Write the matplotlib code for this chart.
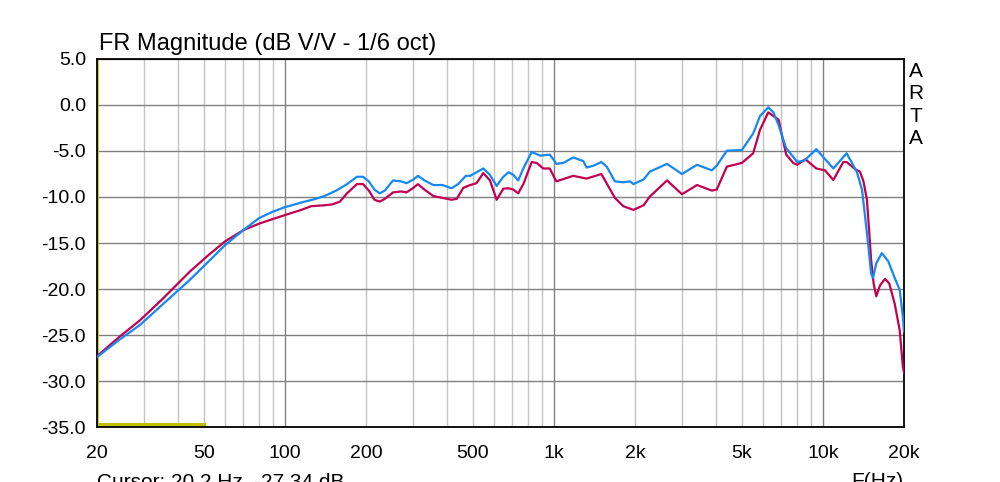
import numpy as np
import matplotlib
matplotlib.use("Agg")
import matplotlib.pyplot as plt

plt.rcParams['font.family'] = ['Liberation Sans', 'DejaVu Sans']
plt.rcParams['axes.unicode_minus'] = False

# blue trace (upper)
blue_f = [20, 24, 28.9, 35, 44.3, 52, 60, 70, 80, 90, 100, 115, 130, 140, 155, 170,
          185, 195, 205, 215, 225, 235, 252, 270, 283, 300, 312, 330, 356, 385, 416,
          440, 470, 488, 546, 578, 612, 648, 678, 706, 736, 769, 826, 887, 964, 994,
          1020, 1083, 1178, 1285, 1322, 1400, 1500, 1570, 1684, 1810, 1917, 1972,
          2152, 2270, 2630, 2990, 3400, 3860, 4025, 4390, 4990, 5500, 5830, 6260,
          6540, 6840, 7120, 7300, 8020, 8560, 9440, 10920, 12240, 13350, 13960,
          14330, 14700, 15090, 15330, 15780, 16540, 17490, 18470, 19280, 19800, 20000]
blue_db = [-27.4, -25.6, -23.9, -21.7, -19.0, -17.0, -15.2, -13.6, -12.3, -11.6, -11.1,
           -10.6, -10.2, -9.9, -9.3, -8.6, -7.8, -7.8, -8.3, -9.2, -9.6, -9.3, -8.2,
           -8.3, -8.5, -8.1, -7.7, -8.2, -8.7, -8.7, -9.05, -8.6, -7.7, -7.7, -6.9,
           -7.6, -8.8, -7.8, -7.3, -7.6, -8.2, -6.9, -5.1, -5.5, -5.4, -5.9, -6.4,
           -6.3, -5.7, -6.1, -6.8, -6.6, -6.2, -6.7, -8.3, -8.4, -8.3, -8.6, -8.1,
           -7.25, -6.4, -7.5, -6.5, -7.1, -6.6, -4.97, -4.9, -3.1, -1.2, -0.25, -0.8,
           -2.2, -3.8, -4.7, -6.2, -6.0, -4.8, -6.9, -5.25, -7.25, -9.2, -12.1, -15.0,
           -18.3, -18.8, -17.2, -16.1, -17.0, -18.8, -20.1, -23.0, -24.6]

# red trace (lower)
red_f = [20, 24, 28.9, 35, 44.3, 52, 60, 70, 80, 90, 100, 115, 125, 140, 150, 160,
         170, 185, 195, 205, 215, 225, 235, 252, 270, 283, 300, 312, 330, 356, 385,
         416, 435, 460, 488, 515, 546, 578, 612, 648, 678, 706, 736, 769, 826, 862,
         912, 964, 1020, 1178, 1322, 1500, 1684, 1810, 1972, 2152, 2270, 2630, 2990,
         3400, 3860, 4025, 4390, 4990, 5500, 5830, 6260, 6540, 6840, 7120, 7300,
         7750, 8020, 8600, 9440, 10170, 10920, 11900, 12240, 13200, 13720, 14140,
         14560, 14860, 15090, 15420, 15780, 16290, 17000, 17630, 18470, 19280,
         19800, 20000]
red_db = [-27.3, -25.3, -23.4, -21.1, -18.1, -16.3, -14.8, -13.6, -12.9, -12.4,
          -11.96, -11.4, -11.0, -10.9, -10.8, -10.5, -9.6, -8.6, -8.6, -9.3, -10.3,
          -10.5, -10.2, -9.5, -9.4, -9.5, -9.0, -8.6, -9.2, -9.9, -10.1, -10.3,
          -10.2, -9.0, -8.7, -8.5, -7.4, -8.2, -10.3, -9.1, -9.05, -9.2, -9.6, -8.6,
          -6.2, -6.3, -6.9, -6.9, -8.3, -7.7, -8.0, -7.5, -10.1, -11.0, -11.4,
          -10.9, -9.96, -8.2, -9.7, -8.7, -9.3, -9.2, -6.7, -6.3, -5.25, -2.7, -0.8,
          -1.2, -1.6, -4.0, -5.4, -6.3, -6.5, -5.9, -6.9, -7.1, -8.15, -6.2, -6.2,
          -7.0, -7.25, -8.3, -10.3, -13.9, -16.8, -19.4, -20.8, -19.6, -18.9, -19.4,
          -21.6, -24.5, -28.4, -29.1]

# yellow marker at the bottom
band_f = [20, 50]
band_db = [-34.7, -34.7]
cursor_f = 20.2

xtick_vals = [20, 50, 100, 200, 500, 1000, 2000, 5000, 10000, 20000]
xtick_labels = ['20', '50', '100', '200', '500', '1k', '2k', '5k', '10k', '20k']
ytick_vals = [5, 0, -5, -10, -15, -20, -25, -30, -35]

fig = plt.figure(figsize=(10, 4.82), dpi=100)
ax = fig.add_axes([0.097, 0.1141, 0.807, 0.7635])

# log grid: light minor lines, darker decades
for dec in [10, 100, 1000, 10000]:
    for m in range(1, 10):
        f = dec * m
        if f <= 20 or f >= 20000:
            continue
        c = '#808080' if m == 1 else '#c4c4c4'
        ax.axvline(f, color=c, lw=1.0, zorder=0)
for v in ytick_vals:
    ax.axhline(v, color='#808080', lw=1.0, zorder=0)

ax.plot(band_f, band_db, color='#c0c000', lw=2.2, zorder=2)
ax.axvline(cursor_f, color='#c0c000', lw=1.2, zorder=2)
ax.plot(red_f, red_db, color='#c2004f', lw=1.6, zorder=3)
ax.plot(blue_f, blue_db, color='#1588f2', lw=1.6, zorder=4)

ax.set_xscale('log')
ax.set_xlim(20, 20000)
ax.set_ylim(-35, 5)
ax.set_xticks(xtick_vals)
ax.set_xticklabels(xtick_labels)
ax.xaxis.set_minor_locator(matplotlib.ticker.NullLocator())
ax.set_yticks(ytick_vals)
ax.set_yticklabels(['%.1f' % v for v in ytick_vals])
ax.tick_params(axis='both', length=0, labelsize=14)
ax.tick_params(axis='x', pad=13)
ax.tick_params(axis='y', pad=8)
for s in ax.spines.values():
    s.set_color('black')
    s.set_linewidth(1.3)

fig.text(0.099, 1 - 50 / 482, 'FR Magnitude (dB V/V - 1/6 oct)', fontsize=17,
         ha='left', va='baseline')
fig.text(0.916, 1 - 62 / 482, 'A\nR\nT\nA', fontsize=15, ha='center', va='top',
         linespacing=1.22)
fig.text(0.097, 1 - 472 / 482, 'Cursor: 20.2 Hz, -27.34 dB', fontsize=15,
         ha='left', va='top')
fig.text(0.903, 1 - 472 / 482, 'F(Hz)', fontsize=15, ha='right', va='top')

fig.savefig('out.png', dpi=100)
